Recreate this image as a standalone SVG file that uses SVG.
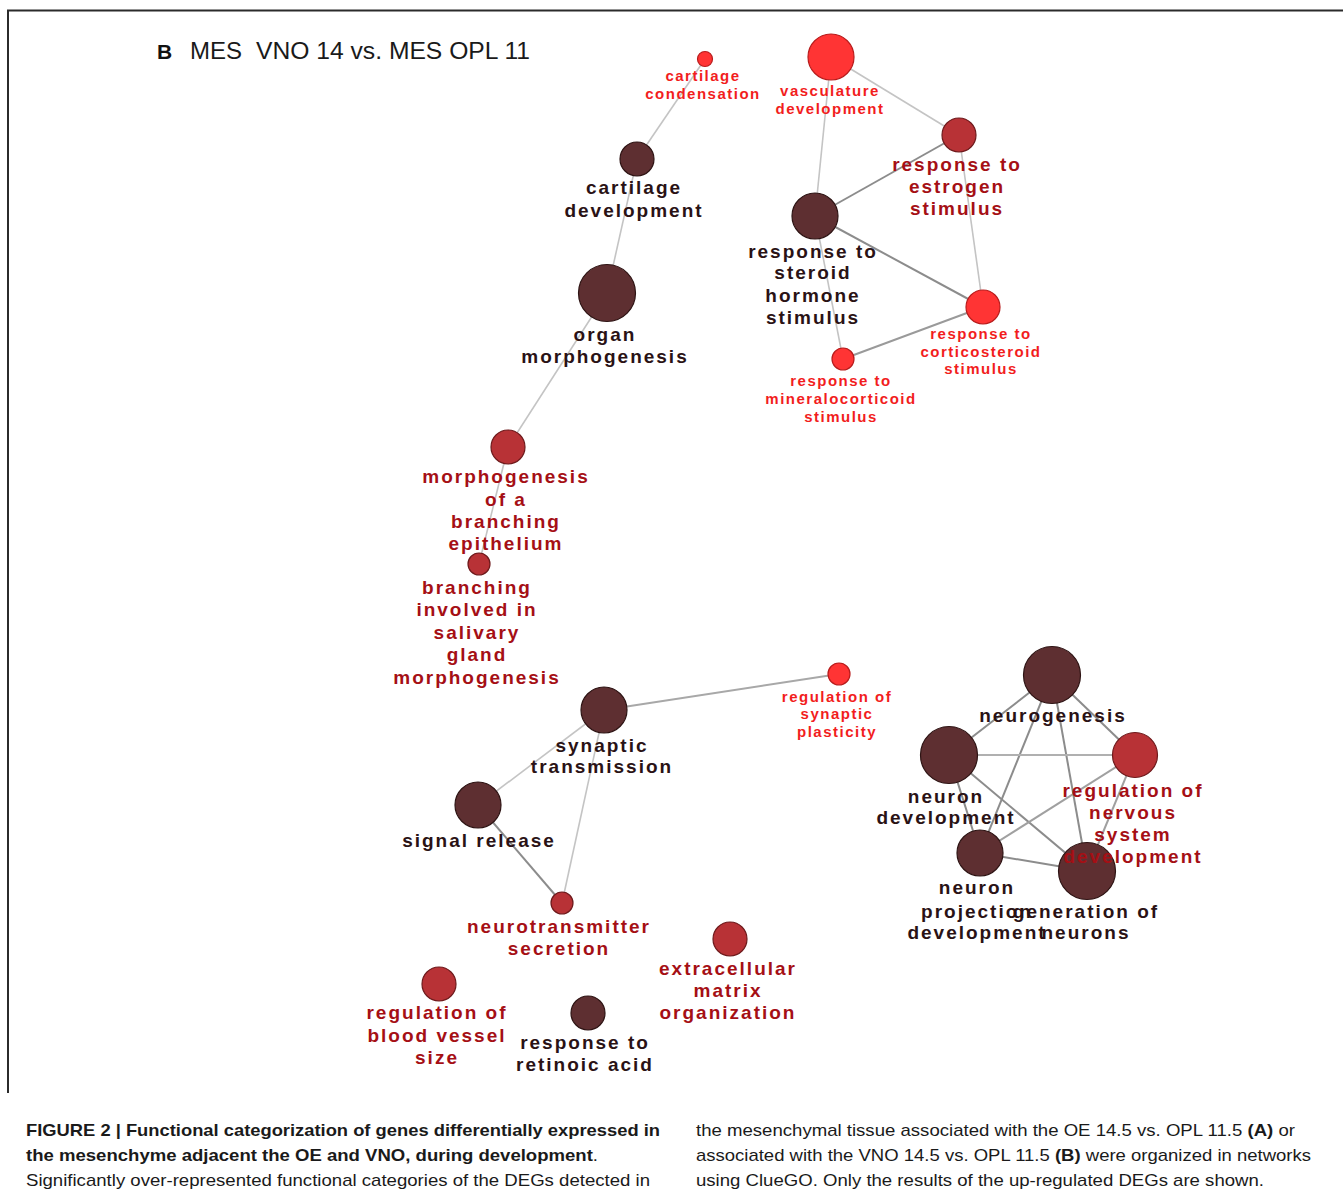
<svg xmlns="http://www.w3.org/2000/svg" width="1343" height="1199" viewBox="0 0 1343 1199">
<style>
text{font-family:"Liberation Sans",Arial,sans-serif}
.lb{font-weight:bold;text-anchor:middle}
.big{font-size:19px;letter-spacing:2px}
.sm{font-size:15px;letter-spacing:1.5px}
.tr{fill:#f21d1d}
.tm{fill:#a50f15}
.td{fill:#2a1215}
.nr{fill:#ff3434;stroke:#b81c1c;stroke-width:1.2}
.nm{fill:#b83236;stroke:#6e1a1c;stroke-width:1.2}
.nd{fill:#5e2f31;stroke:#2e1414;stroke-width:1.2}
.el{stroke:#c4c4c4;stroke-width:1.6;fill:none}
.ed{stroke:#8c8c8c;stroke-width:2;fill:none}
.cap{font-size:17px;fill:#1a1a1a}
</style>
<rect width="1343" height="1199" fill="#ffffff"/>
<g id="frame" fill="none" stroke="#2b2b2b" stroke-width="2">
<path d="M8,1093 V10.5 H1343"/>
</g>
<g id="title">
<text x="157" y="59" style="font-size:21px;font-weight:bold" fill="#111">B</text>
<text x="190" y="59" style="font-size:24px" fill="#1a1a1a">MES</text>
<text x="256" y="59" style="font-size:24px" fill="#1a1a1a" textLength="274" lengthAdjust="spacingAndGlyphs">VNO 14 vs. MES OPL 11</text>
</g>
<g id="connectors">
<line class="el" x1="705" y1="59" x2="637" y2="159"/>
<line class="el" x1="637" y1="159" x2="607" y2="293"/>
<line class="el" x1="607" y1="293" x2="508" y2="447"/>
<line class="el" x1="508" y1="447" x2="479" y2="564"/>
<line class="el" x1="831" y1="57" x2="959" y2="135"/>
<line class="el" x1="831" y1="57" x2="815" y2="216"/>
<line class="ed" x1="815" y1="216" x2="959" y2="135"/>
<line class="ed" x1="815" y1="216" x2="983" y2="307"/>
<line class="el" x1="815" y1="216" x2="843" y2="359"/>
<line class="el" x1="959" y1="135" x2="983" y2="307"/>
<line class="ed" x1="843" y1="359" x2="983" y2="307" style="stroke:#9a9a9a"/>
<line class="ed" x1="604" y1="710" x2="839" y2="674" style="stroke:#a8a8a8"/>
<line class="el" x1="604" y1="710" x2="478" y2="805"/>
<line class="el" x1="604" y1="710" x2="562" y2="903"/>
<line class="ed" x1="478" y1="805" x2="562" y2="903"/>
<line class="ed" x1="1052" y1="675" x2="949" y2="755"/>
<line class="ed" x1="1052" y1="675" x2="1135" y2="755"/>
<line class="ed" x1="1052" y1="675" x2="980" y2="853"/>
<line class="ed" x1="1052" y1="675" x2="1087" y2="871"/>
<line class="ed" x1="949" y1="755" x2="1135" y2="755" style="stroke:#b0b0b0"/>
<line class="ed" x1="949" y1="755" x2="980" y2="853"/>
<line class="ed" x1="949" y1="755" x2="1087" y2="871"/>
<line class="ed" x1="1135" y1="755" x2="980" y2="853" style="stroke:#a0a0a0"/>
<line class="ed" x1="1135" y1="755" x2="1087" y2="871" style="stroke:#a0a0a0"/>
<line class="ed" x1="980" y1="853" x2="1087" y2="871"/>
</g>
<g id="cartilage-condensation">
<circle class="nr" cx="705" cy="59" r="7.5"/>
<text class="lb sm tr" x="703" y="81">cartilage</text>
<text class="lb sm tr" x="703" y="99">condensation</text>
</g>
<g id="vasculature-development">
<circle class="nr" cx="831" cy="57" r="23"/>
<text class="lb sm tr" x="830" y="96">vasculature</text>
<text class="lb sm tr" x="830" y="114">development</text>
</g>
<g id="response-to-estrogen-stimulus">
<circle class="nm" cx="959" cy="135" r="17"/>
<text class="lb big tm" x="957" y="171">response to</text>
<text class="lb big tm" x="957" y="193">estrogen</text>
<text class="lb big tm" x="957" y="215">stimulus</text>
</g>
<g id="response-to-steroid-hormone-stimulus">
<circle class="nd" cx="815" cy="216" r="23"/>
<text class="lb big td" x="813" y="258">response to</text>
<text class="lb big td" x="813" y="279">steroid</text>
<text class="lb big td" x="813" y="302">hormone</text>
<text class="lb big td" x="813" y="324">stimulus</text>
</g>
<g id="response-to-corticosteroid-stimulus">
<circle class="nr" cx="983" cy="307" r="17"/>
<text class="lb sm tr" x="981" y="339">response to</text>
<text class="lb sm tr" x="981" y="357">corticosteroid</text>
<text class="lb sm tr" x="981" y="374">stimulus</text>
</g>
<g id="response-to-mineralocorticoid-stimulus">
<circle class="nr" cx="843" cy="359" r="11"/>
<text class="lb sm tr" x="841" y="386">response to</text>
<text class="lb sm tr" x="841" y="404">mineralocorticoid</text>
<text class="lb sm tr" x="841" y="422">stimulus</text>
</g>
<g id="cartilage-development">
<circle class="nd" cx="637" cy="159" r="17"/>
<text class="lb big td" x="634" y="194">cartilage</text>
<text class="lb big td" x="634" y="217">development</text>
</g>
<g id="organ-morphogenesis">
<circle class="nd" cx="607" cy="293" r="28.5"/>
<text class="lb big td" x="605" y="341">organ</text>
<text class="lb big td" x="605" y="363">morphogenesis</text>
</g>
<g id="morphogenesis-of-a-branching-epithelium">
<circle class="nm" cx="508" cy="447" r="17"/>
<text class="lb big tm" x="506" y="483">morphogenesis</text>
<text class="lb big tm" x="506" y="506">of a</text>
<text class="lb big tm" x="506" y="528">branching</text>
<text class="lb big tm" x="506" y="550">epithelium</text>
</g>
<g id="branching-involved-in-salivary-gland-morphogenesis">
<circle class="nm" cx="479" cy="564" r="11"/>
<text class="lb big tm" x="477" y="594">branching</text>
<text class="lb big tm" x="477" y="616">involved in</text>
<text class="lb big tm" x="477" y="639">salivary</text>
<text class="lb big tm" x="477" y="661">gland</text>
<text class="lb big tm" x="477" y="684">morphogenesis</text>
</g>
<g id="synaptic-transmission">
<circle class="nd" cx="604" cy="710" r="23"/>
<text class="lb big td" x="602" y="752">synaptic</text>
<text class="lb big td" x="602" y="773">transmission</text>
</g>
<g id="regulation-of-synaptic-plasticity">
<circle class="nr" cx="839" cy="674" r="11"/>
<text class="lb sm tr" x="837" y="702">regulation of</text>
<text class="lb sm tr" x="837" y="719">synaptic</text>
<text class="lb sm tr" x="837" y="737">plasticity</text>
</g>
<g id="signal-release">
<circle class="nd" cx="478" cy="805" r="23"/>
<text class="lb big td" x="479" y="847">signal release</text>
</g>
<g id="neurotransmitter-secretion">
<circle class="nm" cx="562" cy="903" r="11"/>
<text class="lb big tm" x="559" y="933">neurotransmitter</text>
<text class="lb big tm" x="559" y="955">secretion</text>
</g>
<g id="extracellular-matrix-organization">
<circle class="nm" cx="730" cy="939" r="17"/>
<text class="lb big tm" x="728" y="975">extracellular</text>
<text class="lb big tm" x="728" y="997">matrix</text>
<text class="lb big tm" x="728" y="1019">organization</text>
</g>
<g id="regulation-of-blood-vessel-size">
<circle class="nm" cx="439" cy="984" r="17"/>
<text class="lb big tm" x="437" y="1019">regulation of</text>
<text class="lb big tm" x="437" y="1042">blood vessel</text>
<text class="lb big tm" x="437" y="1064">size</text>
</g>
<g id="response-to-retinoic-acid">
<circle class="nd" cx="588" cy="1013" r="17"/>
<text class="lb big td" x="585" y="1049">response to</text>
<text class="lb big td" x="585" y="1071">retinoic acid</text>
</g>
<g id="neurogenesis">
<circle class="nd" cx="1052" cy="675" r="28.5"/>
<text class="lb big td" x="1053" y="722">neurogenesis</text>
</g>
<g id="neuron-development">
<circle class="nd" cx="949" cy="755" r="28.5"/>
<text class="lb big td" x="946" y="803">neuron</text>
<text class="lb big td" x="946" y="824">development</text>
</g>
<g id="generation-of-neurons">
<circle class="nd" cx="1087" cy="871" r="28.5"/>
</g>
<g id="neuron-projection-development">
<circle class="nd" cx="980" cy="853" r="23"/>
<text class="lb big td" x="977" y="894">neuron</text>
<text class="lb big td" x="977" y="918">projection</text>
<text class="lb big td" x="977" y="939">development</text>
</g>
<g id="generation-of-neurons-label">
<text class="lb big td" x="1086" y="918">generation of</text>
<text class="lb big td" x="1086" y="939">neurons</text>
</g>
<g id="regulation-of-nervous-system-development">
<circle class="nm" cx="1135" cy="755" r="22.5"/>
<text class="lb big tm" x="1133" y="797">regulation of</text>
<text class="lb big tm" x="1133" y="819">nervous</text>
<text class="lb big tm" x="1133" y="841">system</text>
<text class="lb big tm" x="1133" y="863">development</text>
</g>
<g id="caption">
<text class="cap" x="26" y="1136" font-weight="bold" textLength="634" lengthAdjust="spacingAndGlyphs">FIGURE 2 | Functional categorization of genes differentially expressed in</text>
<text class="cap" x="26" y="1161" textLength="572" lengthAdjust="spacingAndGlyphs"><tspan font-weight="bold">the mesenchyme adjacent the OE and VNO, during development</tspan>.</text>
<text class="cap" x="26" y="1186" textLength="624" lengthAdjust="spacingAndGlyphs">Significantly over-represented functional categories of the DEGs detected in</text>
<text class="cap" x="696" y="1136" textLength="599" lengthAdjust="spacingAndGlyphs">the mesenchymal tissue associated with the OE 14.5 vs. OPL 11.5 <tspan font-weight="bold">(A)</tspan> or</text>
<text class="cap" x="696" y="1161" textLength="615" lengthAdjust="spacingAndGlyphs">associated with the VNO 14.5 vs. OPL 11.5 <tspan font-weight="bold">(B)</tspan> were organized in networks</text>
<text class="cap" x="696" y="1186" textLength="568" lengthAdjust="spacingAndGlyphs">using ClueGO. Only the results of the up-regulated DEGs are shown.</text>
</g>
</svg>
